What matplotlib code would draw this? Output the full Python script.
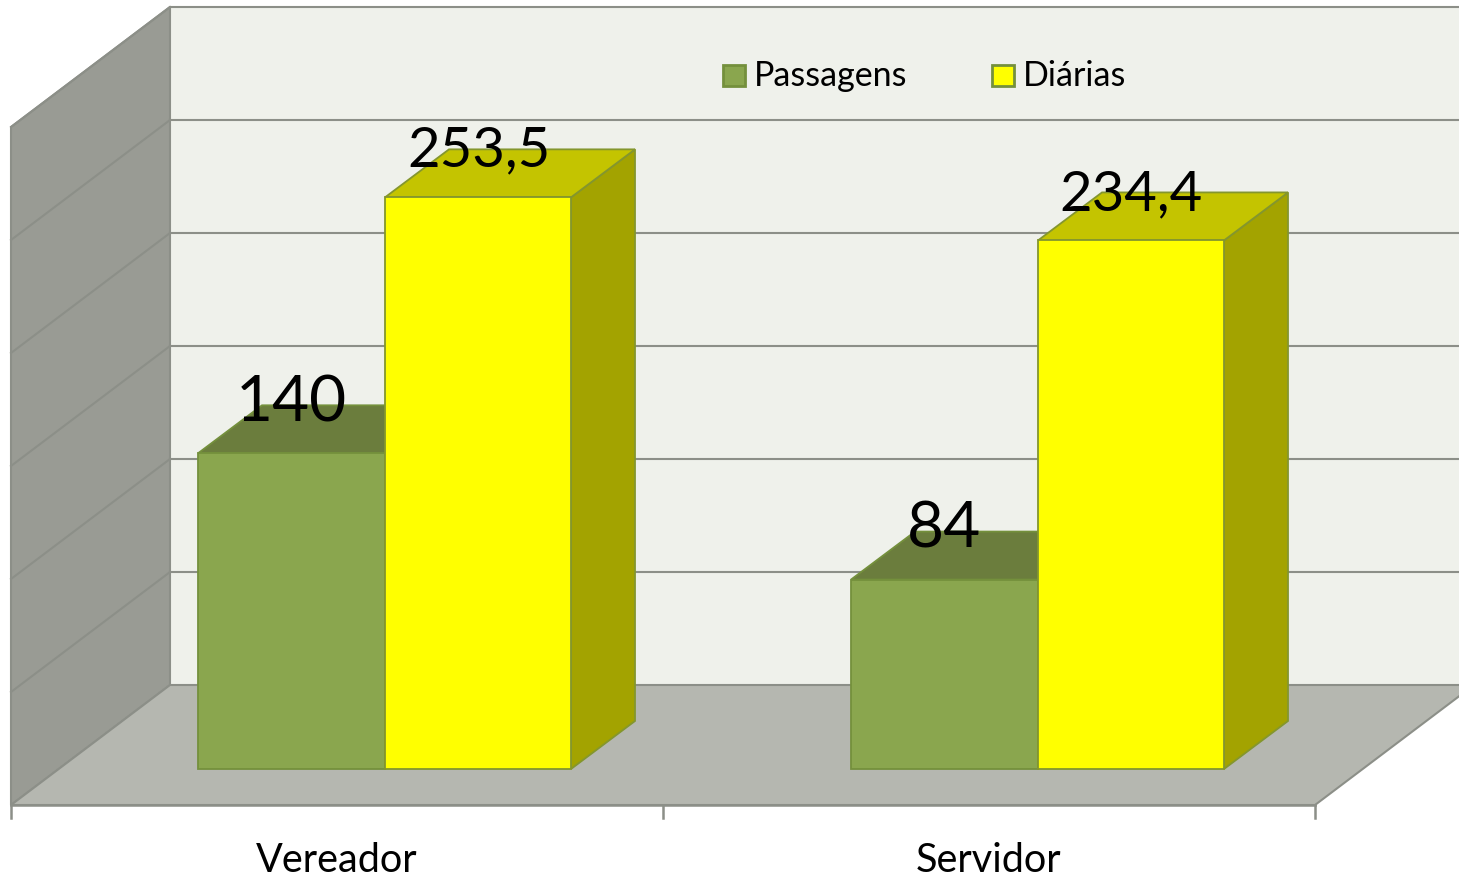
import matplotlib
matplotlib.use('Agg')
import matplotlib.pyplot as plt
from matplotlib.patches import Polygon, Rectangle

plt.rcParams['font.family'] = ['Lato', 'DejaVu Sans']

categorias = ['Vereador', 'Servidor']
passagens = [140, 84]
diarias = [253.5, 234.4]
rotulos_passagens = ['140', '84']
rotulos_diarias = ['253,5', '234,4']
grade = [0, 50, 100, 150, 200, 250, 300]

# escala em pixels, eixo invertido como na imagem
base = 769
esc = 2.255
fundo = 685
esc_fundo = 2.26


def y_barra(v):
    return base - v * esc


def y_fundo(v):
    return fundo - v * esc_fundo


def bar3d(ax, x0, x1, v, frente, topo, lado, borda):
    y = y_barra(v)
    dx, dy = 64, -48
    ax.add_patch(Polygon([(x1, y), (x1 + dx, y + dy), (x1 + dx, base + dy), (x1, base)],
                         fc=lado, ec=borda, lw=1.3, zorder=3))
    ax.add_patch(Polygon([(x0, y), (x0 + dx, y + dy), (x1 + dx, y + dy), (x1, y)],
                         fc=topo, ec=borda, lw=1.3, zorder=3))
    ax.add_patch(Rectangle((x0, y), x1 - x0, base - y, fc=frente, ec=borda, lw=1.3, zorder=4))


fig = plt.figure(figsize=(14.59, 8.78), dpi=100)
ax = fig.add_axes([0, 0, 1, 1])
ax.set_xlim(0, 1459)
ax.set_ylim(877, -1)
ax.axis('off')

cinza = '#8c8f88'
ax.add_patch(Rectangle((170, y_fundo(300)), 1300, fundo - y_fundo(300), fc='#eff1eb', ec='none', zorder=1))
ax.add_patch(Polygon([(11, 805 - 300 * esc_fundo), (170, y_fundo(300)), (170, fundo), (11, 805)],
                     fc='#999b94', ec=cinza, lw=1.5, zorder=1))
ax.add_patch(Polygon([(11, 805), (170, fundo), (1470, fundo), (1470, 688), (1315, 805)],
                     fc='#b5b7b0', ec=cinza, lw=1.5, zorder=1))

for g in grade[1:]:
    ax.plot([170, 1459], [y_fundo(g), y_fundo(g)], color=cinza, lw=1.5, zorder=2)
    ax.plot([11, 170], [805 - g * esc_fundo, y_fundo(g)], color=cinza, lw=1.5, zorder=2)

# eixo x
ax.plot([11, 1315], [805, 805], color=cinza, lw=1.8, zorder=2)
for xt in [11, 663, 1315]:
    ax.plot([xt, xt], [805, 818], color=cinza, lw=1.8, zorder=2)

pos = [198, 851]
largura = 187
for i in range(2):
    x0 = pos[i]
    bar3d(ax, x0, x0 + largura, passagens[i], '#8aa64e', '#6b7d3d', '#6b7d3d', '#74903c')
    bar3d(ax, x0 + largura, x0 + 2 * largura - 1, diarias[i], '#ffff00', '#c4c400', '#a3a300', '#84962e')
    ax.text(x0 + largura / 2, y_barra(passagens[i]) - 51, rotulos_passagens[i], fontsize=46,
            ha='center', va='center', color='black', zorder=5)
    ax.text(x0 + largura * 1.5, y_barra(diarias[i]) - 47, rotulos_diarias[i], fontsize=40.5,
            ha='center', va='center', color='black', zorder=5)
    ax.text(337 + i * 652, 860, categorias[i], fontsize=28.5, ha='center', va='center', color='black', zorder=5)

# legenda
ax.add_patch(Rectangle((723, 65), 22, 21, fc='#8aa64e', ec='#74903c', lw=2, zorder=5))
ax.text(754, 75, 'Passagens', fontsize=24.5, ha='left', va='center', zorder=5)
ax.add_patch(Rectangle((992, 65), 22, 21, fc='#ffff00', ec='#74903c', lw=2, zorder=5))
ax.text(1023, 75, 'Diárias', fontsize=24.5, ha='left', va='center', zorder=5)

fig.savefig('out.png', dpi=100)
